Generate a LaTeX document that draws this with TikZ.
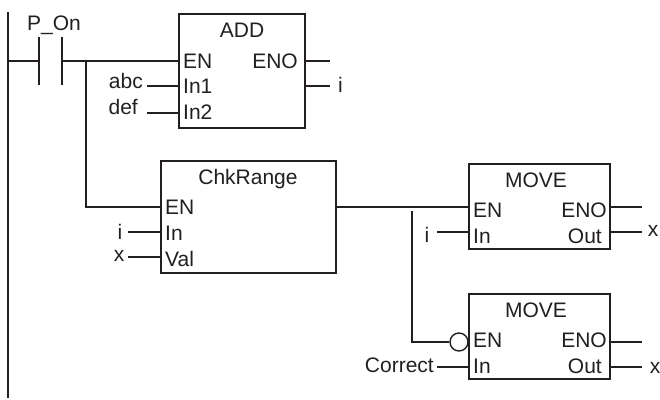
\documentclass[tikz,border=0pt]{standalone}
\usepackage{fontspec}
\setmainfont{Liberation Sans}
\definecolor{ink}{HTML}{231F20}
\tikzset{
  wire/.style={draw=ink,line width=1.4pt},
  fb/.style={draw=ink,line width=1.5pt,fill=white,inner sep=0pt,anchor=north west},
  txt/.style={text=ink,inner sep=0pt,font=\fontsize{21}{23}\selectfont},
  lbl/.style={txt,anchor=base west},
  lbr/.style={txt,anchor=base east},
  lbc/.style={txt,anchor=base},
}
\begin{document}
\begin{tikzpicture}[x=1pt,y=-1pt]
\useasboundingbox (0,0) rectangle (660,399);
% boxes
\node[fb,minimum width=126pt,minimum height=114pt] (add) at (178,13) {};
\node[fb,minimum width=175pt,minimum height=112pt] (chk) at (160,160) {};
\node[fb,minimum width=141pt,minimum height=85pt] (mv1) at (468,163) {};
\node[fb,minimum width=141pt,minimum height=85pt] (mv2) at (468,293) {};
% free ends
\coordinate (railtop) at (8,12);
\coordinate (railbot) at (8,398);
\coordinate (railtap) at (8,61);
\coordinate (cLtop) at (39,37);
\coordinate (cLbot) at (39,85);
\coordinate (cRtop) at (62,37);
\coordinate (cRbot) at (62,85);
\coordinate (cLmid) at (39,61);
\coordinate (cRmid) at (62,61);
\coordinate (split) at (86,61);
\coordinate (addEN) at (178,61);
\coordinate (addI1) at (178,86);
\coordinate (addI2) at (178,113);
\coordinate (abcE) at (147,86);
\coordinate (defE) at (147,113);
\coordinate (addENO) at (304,61);
\coordinate (addOut) at (304,86);
\coordinate (addENOe) at (330,61);
\coordinate (addOute) at (330,86);
\coordinate (turn) at (86,207);
\coordinate (chkEN) at (160,207);
\coordinate (chkIn) at (160,232);
\coordinate (chkVal) at (160,257);
\coordinate (iE) at (128,232);
\coordinate (xE) at (128,257);
\coordinate (chkO) at (335,207);
\coordinate (m1EN) at (468,207);
\coordinate (m1In) at (468,232);
\coordinate (m1iE) at (437,232);
\coordinate (m1ENO) at (609,207);
\coordinate (m1Out) at (609,232);
\coordinate (m1ENOe) at (642,207);
\coordinate (m1Oute) at (642,232);
\coordinate (brTop) at (412,211);
\coordinate (brBot) at (412,342);
\node[draw=ink,line width=1.4pt,fill=white,circle,minimum size=18pt,inner sep=0pt] (neg) at (459,342) {};
\coordinate (m2In) at (468,367);
\coordinate (m2cE) at (437,367);
\coordinate (m2ENO) at (609,342);
\coordinate (m2Out) at (609,367);
\coordinate (m2ENOe) at (642,342);
\coordinate (m2Oute) at (642,367);
% connectors
\draw[wire] (railtop) -- (railbot);
\draw[wire] (cLtop) -- (cLbot);
\draw[wire] (cRtop) -- (cRbot);
\draw[wire] (railtap) -- (cLmid);
\draw[wire] (cRmid) -- (addEN);
\draw[wire] (split) -- (turn) -- (chkEN);
\draw[wire] (abcE) -- (addI1);
\draw[wire] (defE) -- (addI2);
\draw[wire] (addENO) -- (addENOe);
\draw[wire] (addOut) -- (addOute);
\draw[wire] (iE) -- (chkIn);
\draw[wire] (xE) -- (chkVal);
\draw[wire] (chkO) -- (m1EN);
\draw[wire] (m1iE) -- (m1In);
\draw[wire] (m1ENO) -- (m1ENOe);
\draw[wire] (m1Out) -- (m1Oute);
\draw[wire] (brTop) -- (brBot) -- (neg.west);
\draw[wire] (m2cE) -- (m2In);
\draw[wire] (m2ENO) -- (m2ENOe);
\draw[wire] (m2Out) -- (m2Oute);
% texts
\node[lbc] (tP) at (54,30) {P\_On};
\node[lbc] (tA) at (242,37) {ADD};
\node[lbl] (tA1) at (183,68) {EN};
\node[lbr] (tA2) at (298,68) {ENO};
\node[lbl] (tA3) at (183,93) {In1};
\node[lbl] (tA4) at (183,119) {In2};
\node[lbr] (tabc) at (143,88) {abc};
\node[lbr] (tdef) at (138,114) {def};
\node[lbl] (tAi) at (338,92) {i};
\node[lbc] (tC) at (248,184) {ChkRange};
\node[lbl] (tC1) at (165,214) {EN};
\node[lbl] (tC2) at (165,240) {In};
\node[lbl] (tC3) at (165,266) {Val};
\node[lbc] (tCi) at (120,239) {i};
\node[lbc] (tCx) at (119,261) {x};
\node[lbc] (tM) at (536,187) {MOVE};
\node[lbl] (tM1) at (473,217) {EN};
\node[lbr] (tM2) at (607,217) {ENO};
\node[lbl] (tM3) at (473,243) {In};
\node[lbr] (tM4) at (602,243) {Out};
\node[lbc] (tMi) at (427,242) {i};
\node[lbc] (tMx) at (653,236) {x};
\node[lbc] (tN) at (536,317) {MOVE};
\node[lbl] (tN1) at (473,347) {EN};
\node[lbr] (tN2) at (607,347) {ENO};
\node[lbl] (tN3) at (473,373) {In};
\node[lbr] (tN4) at (602,373) {Out};
\node[lbr] (tNc) at (434,372) {Correct};
\node[lbc] (tNx) at (655,373) {x};
\end{tikzpicture}
\end{document}
